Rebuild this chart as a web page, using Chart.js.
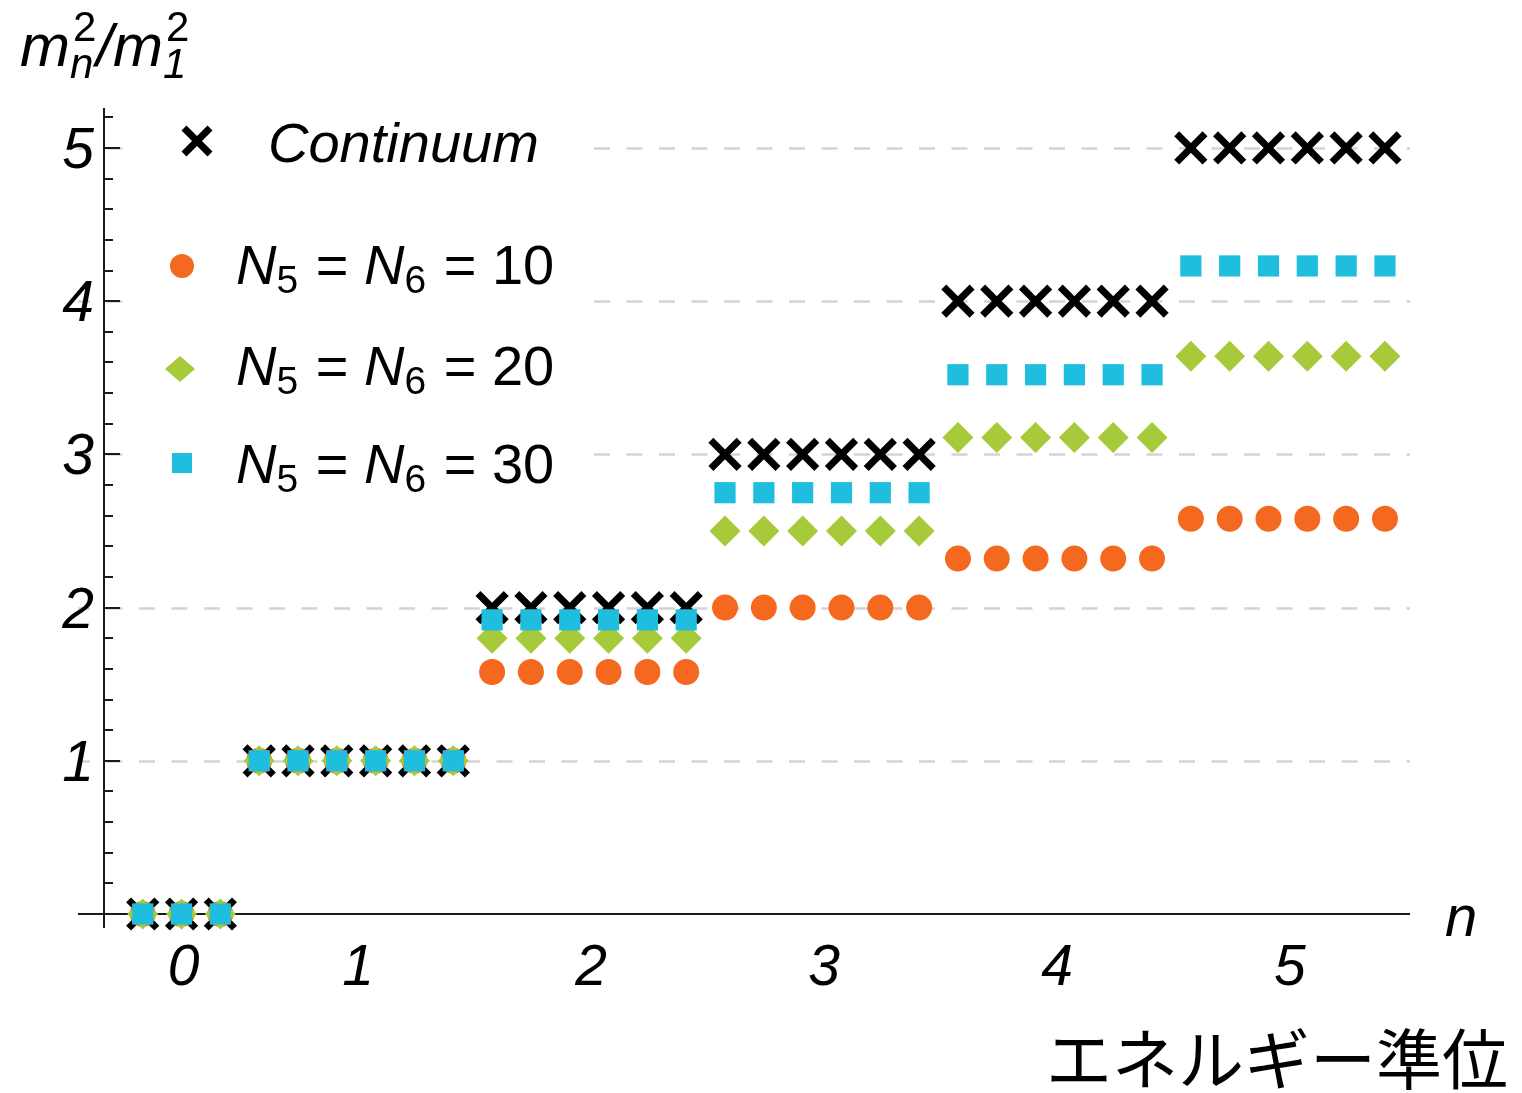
<!DOCTYPE html>
<html>
<head>
<meta charset="utf-8">
<title>エネルギー準位</title>
<script src="https://cdn.jsdelivr.net/npm/chart.js@4/dist/chart.umd.min.js"></script>
<style>
  html, body { margin: 0; padding: 0; background: #ffffff; }
  #wrap { width: 1522px; height: 1093px; position: relative; }
  canvas { display: block; }
</style>
</head>
<body>
<div id="wrap"><canvas id="chart" width="1522" height="1093"></canvas></div>
<script>
// Energy levels n = 0..5; level 0 has 3 states, the rest 6 each.
const levels = ['0', '1', '2', '3', '4', '5'];
const statesPerLevel = [3, 6, 6, 6, 6, 6];

// m_n^2 / m_1^2 for every state, in order of increasing level.
const continuum = [0, 0, 0,
  1, 1, 1, 1, 1, 1,
  2, 2, 2, 2, 2, 2,
  3, 3, 3, 3, 3, 3,
  4, 4, 4, 4, 4, 4,
  5, 5, 5, 5, 5, 5];
const lattice10 = [0, 0, 0,
  1, 1, 1, 1, 1, 1,
  1.58, 1.58, 1.58, 1.58, 1.58, 1.58,
  2.00, 2.00, 2.00, 2.00, 2.00, 2.00,
  2.32, 2.32, 2.32, 2.32, 2.32, 2.32,
  2.58, 2.58, 2.58, 2.58, 2.58, 2.58];
const lattice20 = [0, 0, 0,
  1, 1, 1, 1, 1, 1,
  1.80, 1.80, 1.80, 1.80, 1.80, 1.80,
  2.50, 2.50, 2.50, 2.50, 2.50, 2.50,
  3.11, 3.11, 3.11, 3.11, 3.11, 3.11,
  3.64, 3.64, 3.64, 3.64, 3.64, 3.64];
const lattice30 = [0, 0, 0,
  1, 1, 1, 1, 1, 1,
  1.92, 1.92, 1.92, 1.92, 1.92, 1.92,
  2.75, 2.75, 2.75, 2.75, 2.75, 2.75,
  3.52, 3.52, 3.52, 3.52, 3.52, 3.52,
  4.23, 4.23, 4.23, 4.23, 4.23, 4.23];

const yTickValues = [1, 2, 3, 4, 5];
const yTickLabels = ['1', '2', '3', '4', '5'];

const COLORS = {
  continuum: '#000000',
  n10: '#F4691F',
  n20: '#A6CA3A',
  n30: '#1FBEDF',
  grid: '#d4d4d4',
  axis: '#1a1a1a'
};

const FONT = '"Liberation Sans", Arial, sans-serif';
const CJK = '"Noto Sans CJK JP", "Noto Sans CJK SC", sans-serif';

// One point per state; x is the running state index.
const toPoints = arr => arr.map((y, i) => ({ x: i, y: y }));

// Centre of each level along the x scale, for the level labels.
const levelCentres = [];
(function () {
  let start = 0;
  statesPerLevel.forEach(count => {
    levelCentres.push(start + (count - 1) / 2);
    start += count;
  });
})();

const Y_AXIS_AT = -1;   // x value where the vertical axis is drawn

const axesPlugin = {
  id: 'axesDecor',
  beforeDatasetsDraw(chart) {
    const ctx = chart.ctx;
    const area = chart.chartArea;
    const xs = chart.scales.x;
    const ys = chart.scales.y;
    const axisX = Math.round(xs.getPixelForValue(Y_AXIS_AT));
    const zeroY = Math.round(ys.getPixelForValue(0));

    ctx.save();

    // dashed horizontal grid lines
    ctx.strokeStyle = COLORS.grid;
    ctx.lineWidth = 2.5;
    ctx.setLineDash([16, 16.5]);
    ctx.lineDashOffset = 4;
    yTickValues.forEach(v => {
      const py = Math.round(ys.getPixelForValue(v)) + 0.5;
      ctx.beginPath();
      ctx.moveTo(area.left, py);
      ctx.lineTo(area.right, py);
      ctx.stroke();
    });
    ctx.setLineDash([]);

    // legend panel background
    ctx.fillStyle = '#ffffff';
    ctx.fillRect(130, area.top, 458, 392);

    // axes
    ctx.strokeStyle = COLORS.axis;
    ctx.lineWidth = 2;
    ctx.beginPath();
    ctx.moveTo(area.left, zeroY);
    ctx.lineTo(area.right, zeroY);
    ctx.moveTo(axisX, area.top);
    ctx.lineTo(axisX, area.bottom);
    ctx.stroke();

    // y ticks: major every 1, minor every 0.2, drawn inward
    ctx.beginPath();
    for (let k = 0; k <= 26; k++) {
      const v = k / 5;
      const py = Math.round(ys.getPixelForValue(v));
      if (py < area.top) continue;
      const len = (k % 5 === 0) ? 16 : 9;
      ctx.moveTo(axisX, py);
      ctx.lineTo(axisX + len, py);
    }
    ctx.stroke();

    // y tick labels
    ctx.fillStyle = '#000000';
    ctx.font = 'italic 57px ' + FONT;
    ctx.textAlign = 'right';
    ctx.textBaseline = 'alphabetic';
    yTickValues.forEach((v, i) => {
      const py = ys.getPixelForValue(v);
      ctx.fillText(yTickLabels[i], axisX - 10, py + 20);
    });

    // level labels along x
    ctx.textAlign = 'center';
    levels.forEach((lab, i) => {
      ctx.fillText(lab, xs.getPixelForValue(levelCentres[i]) + 2, zeroY + 71);
    });

    // x axis symbol
    ctx.font = 'italic 58px ' + FONT;
    ctx.textAlign = 'left';
    ctx.fillText('n', 1445, 936);

    // Japanese axis caption
    ctx.font = '400 66px ' + CJK;
    ctx.textAlign = 'right';
    ctx.fillText('エネルギー準位', 1508, 1084);

    // y axis title m_n^2 / m_1^2
    drawTitle(ctx, 20, 66);

    // legend
    drawLegend(ctx);

    ctx.restore();
  }
};

function drawTitle(ctx, x, base) {
  ctx.textAlign = 'left';
  ctx.textBaseline = 'alphabetic';
  const big = 'italic 60px ' + FONT;
  const sup = '42px ' + FONT;
  const subI = 'italic 42px ' + FONT;
  ctx.font = big;
  ctx.fillText('m', x, base);
  x += ctx.measureText('m').width + 1;
  ctx.font = sup;
  ctx.fillText('2', x + 2, base - 25);
  const w1 = ctx.measureText('2').width;
  ctx.font = subI;
  ctx.fillText('n', x - 1, base + 12);
  x += w1 + 2;
  ctx.font = big;
  ctx.fillText('/', x, base);
  x += ctx.measureText('/').width;
  ctx.fillText('m', x, base);
  x += ctx.measureText('m').width + 1;
  ctx.font = sup;
  ctx.fillText('2', x + 2, base - 25);
  ctx.font = subI;
  ctx.fillText('1', x - 1, base + 12);
}

function legendSymbol(ctx, kind, cx, cy) {
  ctx.save();
  if (kind === 'cross') {
    ctx.strokeStyle = COLORS.continuum;
    ctx.lineWidth = 7;
    const d = 13;
    ctx.beginPath();
    ctx.moveTo(cx - d, cy - d); ctx.lineTo(cx + d, cy + d);
    ctx.moveTo(cx + d, cy - d); ctx.lineTo(cx - d, cy + d);
    ctx.stroke();
  } else if (kind === 'circle') {
    ctx.fillStyle = COLORS.n10;
    ctx.beginPath();
    ctx.arc(cx, cy, 12, 0, Math.PI * 2);
    ctx.fill();
  } else if (kind === 'diamond') {
    ctx.fillStyle = COLORS.n20;
    ctx.beginPath();
    ctx.moveTo(cx - 15, cy); ctx.lineTo(cx, cy - 13);
    ctx.lineTo(cx + 15, cy); ctx.lineTo(cx, cy + 13);
    ctx.closePath();
    ctx.fill();
  } else {
    ctx.fillStyle = COLORS.n30;
    ctx.fillRect(cx - 10, cy - 10, 20, 20);
  }
  ctx.restore();
}

function latticeLabel(ctx, x, base, size) {
  const main = '56px ' + FONT;
  const ital = 'italic 56px ' + FONT;
  const sub = '39px ' + FONT;
  const parts = [
    [ital, 'N', 0], [sub, '5', 9], [main, ' = ', 0],
    [ital, 'N', 0], [sub, '6', 9], [main, ' = ' + size, 0]
  ];
  parts.forEach(p => {
    ctx.font = p[0];
    ctx.fillText(p[1], x, base + p[2]);
    x += ctx.measureText(p[1]).width + (p[2] ? 2 : 0);
  });
}

function drawLegend(ctx) {
  ctx.fillStyle = '#000000';
  ctx.textAlign = 'left';
  ctx.textBaseline = 'alphabetic';

  legendSymbol(ctx, 'cross', 197, 141);
  ctx.font = 'italic 56px ' + FONT;
  ctx.fillText('Continuum', 268, 162);

  legendSymbol(ctx, 'circle', 182, 266);
  ctx.fillStyle = '#000000';
  latticeLabel(ctx, 236, 284, '10');

  legendSymbol(ctx, 'diamond', 180, 369);
  ctx.fillStyle = '#000000';
  latticeLabel(ctx, 236, 385, '20');

  legendSymbol(ctx, 'square', 182, 463);
  ctx.fillStyle = '#000000';
  latticeLabel(ctx, 236, 483, '30');
}

const chart = new Chart(document.getElementById('chart'), {
  type: 'scatter',
  data: {
    datasets: [
      {
        label: 'Continuum',
        data: toPoints(continuum),
        pointStyle: 'crossRot',
        pointRadius: 20,
        pointBorderWidth: 7,
        pointBorderColor: COLORS.continuum,
        pointBackgroundColor: COLORS.continuum,
        order: 3,
        clip: false
      },
      {
        label: 'N5 = N6 = 10',
        data: toPoints(lattice10),
        pointStyle: 'circle',
        pointRadius: 13,
        pointBorderWidth: 0,
        pointBackgroundColor: COLORS.n10,
        order: 2,
        clip: false
      },
      {
        label: 'N5 = N6 = 20',
        data: toPoints(lattice20),
        pointStyle: 'rectRot',
        pointRadius: 15.5,
        pointBorderWidth: 0,
        pointBackgroundColor: COLORS.n20,
        order: 1,
        clip: false
      },
      {
        label: 'N5 = N6 = 30',
        data: toPoints(lattice30),
        pointStyle: 'rect',
        pointRadius: 15,
        pointBorderWidth: 0,
        pointBackgroundColor: COLORS.n30,
        order: 0,
        clip: false
      }
    ]
  },
  options: {
    responsive: false,
    animation: false,
    devicePixelRatio: 1,
    events: [],
    layout: { padding: { left: 78, right: 112, top: 108, bottom: 165 } },
    scales: {
      x: { type: 'linear', min: -1.667, max: 32.645, display: false },
      y: { type: 'linear', min: -0.0914, max: 5.261, display: false }
    },
    plugins: {
      legend: { display: false },
      tooltip: { enabled: false }
    }
  },
  plugins: [axesPlugin]
});
</script>
</body>
</html>
